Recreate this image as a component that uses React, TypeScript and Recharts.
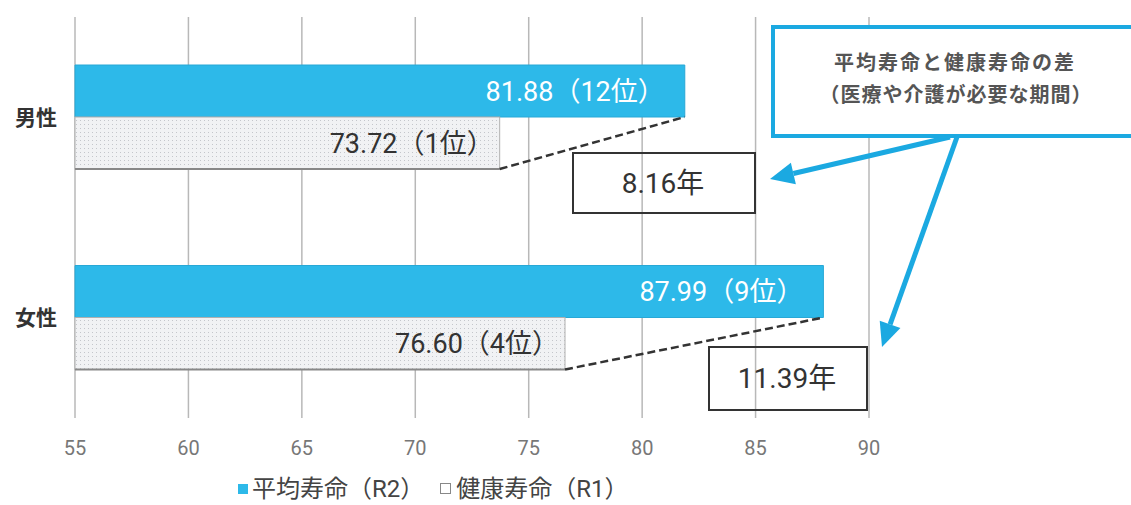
import {
  BarChart,
  Bar,
  XAxis,
  YAxis,
  CartesianGrid,
  Legend,
  LabelList,
} from "recharts";

const categories = ["男性", "女性"];
const avgLife = [81.88, 87.99];
const avgRank = [12, 9];
const healthyLife = [73.72, 76.6];
const healthyRank = [1, 4];
const xTicks = [55, 60, 65, 70, 75, 80, 85, 90];
const X_MIN = 55;

const data = categories.map((name, i) => ({
  name,
  avg: avgLife[i],
  healthy: healthyLife[i],
  avgLabel: `${avgLife[i].toFixed(2)}（${avgRank[i]}位）`,
  healthyLabel: `${healthyLife[i].toFixed(2)}（${healthyRank[i]}位）`,
  gap: `${(avgLife[i] - healthyLife[i]).toFixed(2)}年`,
}));

const FONT = "Roboto, 'Noto Sans CJK JP', sans-serif";
const BLUE = "#2DB9E9";
const ARROW = "#1BA9E1";

// healthy bar: dotted fill + dashed link to the end of the avg bar above
const HealthyShape = (props: any) => {
  const { x, y, width, height, payload } = props;
  const avgEnd = x + (width * (payload.avg - X_MIN)) / (payload.healthy - X_MIN);
  return (
    <g>
      <rect x={x} y={y} width={width} height={height} fill="url(#dots)" stroke="#b0b0b0" />
      <line x1={x} x2={x + width} y1={y + height} y2={y + height} stroke="#888" strokeWidth={2} />
      <line
        x1={x + width}
        y1={y + height}
        x2={avgEnd}
        y2={y}
        stroke="#333"
        strokeWidth={2.5}
        strokeDasharray="8 4"
      />
    </g>
  );
};

const renderLegend = () => (
  <div
    style={{
      height: 37,
      display: "flex",
      alignItems: "center",
      paddingLeft: 238,
      paddingTop: 4,
      boxSizing: "border-box",
      fontFamily: FONT,
      fontSize: 24,
      lineHeight: "28px",
      color: "#444",
      whiteSpace: "nowrap",
    }}
  >
    <span style={{ width: 10, height: 10, background: BLUE, marginRight: 4 }} />
    <span style={{ marginRight: 16 }}>平均寿命（R2）</span>
    <span
      style={{
        width: 9,
        height: 9,
        border: "1px solid #888",
        background: "#fff",
        marginRight: 5,
      }}
    />
    <span>健康寿命（R1）</span>
  </div>
);

const arrow = (x1: number, y1: number, x2: number, y2: number) => {
  const a = Math.atan2(y2 - y1, x2 - x1);
  const len = 24;
  const w = 11;
  const bx = x2 - len * Math.cos(a);
  const by = y2 - len * Math.sin(a);
  const px = -Math.sin(a) * w;
  const py = Math.cos(a) * w;
  return (
    <g>
      <line x1={x1} y1={y1} x2={bx} y2={by} stroke={ARROW} strokeWidth={5} />
      <polygon
        points={`${x2},${y2} ${bx + px},${by + py} ${bx - px},${by - py}`}
        fill={ARROW}
      />
    </g>
  );
};

export default () => {
  return (
    <div style={{ position: "relative", width: 1131, height: 505, background: "#fff", overflow: "hidden" }}>
      <style>{"body{margin:0}"}</style>
      <svg width="0" height="0" style={{ position: "absolute" }}>
        <defs>
          <pattern id="dots" width="4" height="4" patternUnits="userSpaceOnUse">
            <rect width="4" height="4" fill="#f1f2f4" />
            <rect width="1" height="1" fill="#c4c6cb" />
          </pattern>
        </defs>
      </svg>
      <BarChart
        width={1131}
        height={505}
        data={data}
        layout="vertical"
        margin={{ top: 17, right: 262, left: 0, bottom: 0 }}
        barSize={52}
        barGap={0}
      >
        <CartesianGrid vertical horizontal={false} stroke="#b8b8b8" strokeWidth={1.5} />
        <XAxis
          type="number"
          domain={[55, 90]}
          ticks={xTicks}
          axisLine={false}
          tickLine={false}
          height={50}
          tickMargin={17}
          tick={{ fontSize: 20, fill: "#777", fontFamily: FONT }}
        />
        <YAxis
          type="category"
          dataKey="name"
          width={75}
          axisLine={false}
          tickLine={false}
          tickMargin={12}
          tick={{ fontSize: 21, fill: "#333", fontWeight: 700, fontFamily: FONT }}
        />
        <Legend verticalAlign="bottom" content={renderLegend} wrapperStyle={{ left: 0, width: 1131 }} />
        <Bar dataKey="avg" fill={BLUE} stroke="#28a8d6" isAnimationActive={false}>
          <LabelList
            dataKey="avgLabel"
            position="insideRight"
            offset={20}
            fill="#fff"
            fontSize={27}
            fontFamily={FONT}
          />
        </Bar>
        <Bar dataKey="healthy" shape={HealthyShape} isAnimationActive={false}>
          <LabelList
            dataKey="healthyLabel"
            position="insideRight"
            offset={6}
            fill="#333"
            fontSize={27}
            fontFamily={FONT}
          />
        </Bar>
      </BarChart>
      <svg
        width={1131}
        height={505}
        style={{ position: "absolute", left: 0, top: 0, pointerEvents: "none" }}
        fontFamily={FONT}
      >
        <rect x={773} y={27} width={380} height={109} fill="#fff" stroke={ARROW} strokeWidth={4} />
        <text x={955} y={70} textAnchor="middle" fontSize={20} fontWeight={700} fill="#555" letterSpacing={2}>
          平均寿命と健康寿命の差
        </text>
        <text x={956} y={102} textAnchor="middle" fontSize={20} fontWeight={700} fill="#555" letterSpacing={1}>
          （医療や介護が必要な期間）
        </text>
        {arrow(950, 137, 770, 179)}
        {arrow(957, 137, 882, 347)}
        <rect x={573} y={153} width={182} height={60} fill="none" stroke="#333" strokeWidth={2} />
        <text x={663} y={193} textAnchor="middle" fontSize={28} fill="#333">
          {data[0].gap}
        </text>
        <rect x={709} y={347} width={158} height={63} fill="none" stroke="#333" strokeWidth={2} />
        <text x={787} y={388} textAnchor="middle" fontSize={28} fill="#333">
          {data[1].gap}
        </text>
      </svg>
    </div>
  );
};
